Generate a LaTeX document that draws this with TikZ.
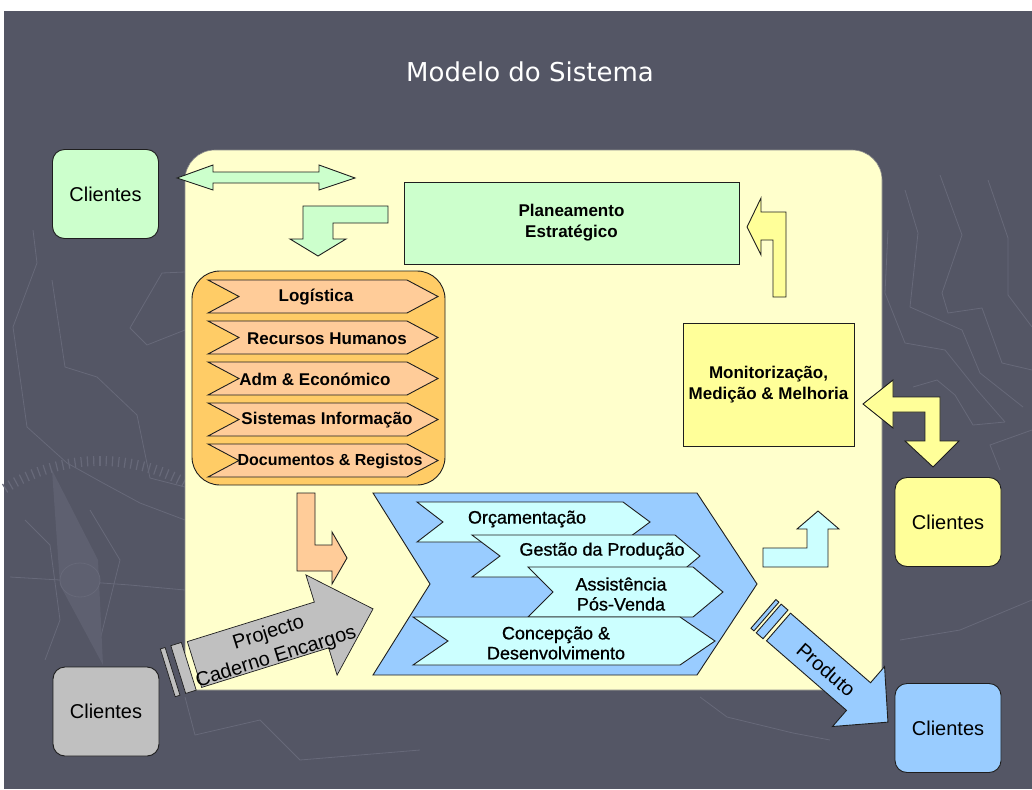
\documentclass[tikz,border=0pt]{standalone}
\usepackage{fontspec}
\setmainfont{Liberation Sans}
\newfontfamily\titlefont{DejaVu Sans}
\newfontfamily\semibold[FakeBold=0.8]{Liberation Sans}
\definecolor{bgdark}{RGB}{84,86,101}
\definecolor{bgline}{RGB}{103,105,121}
\definecolor{bgneedle}{RGB}{94,96,112}
\definecolor{cream}{RGB}{255,255,204}
\definecolor{cgreen}{RGB}{204,255,204}
\definecolor{corange}{RGB}{255,204,102}
\definecolor{cpeach}{RGB}{255,204,153}
\definecolor{cyell}{RGB}{255,255,153}
\definecolor{cblue}{RGB}{153,204,255}
\definecolor{ccyan}{RGB}{204,255,255}
\definecolor{cgray}{RGB}{192,192,192}
\definecolor{edgecol}{RGB}{30,30,30}
\newcommand\lblbold{\fontsize{17}{21}\selectfont\bfseries}
\newcommand\lblreg{\semibold\fontsize{18}{20}\selectfont}
\newcommand\lblbig{\fontsize{20}{25}\selectfont}
% #1 style, #2 left x, #3 tip x, #4 top y, #5 bottom y, #6 notch depth, #7 tip depth
\newcommand\chevshape[7]{%
  \draw[#1] (#2,#4) -- ({#3-#7},#4) -- (#3,{(#4+#5)/2}) -- ({#3-#7},#5)
    -- (#2,#5) -- ({#2+#6},{(#4+#5)/2}) -- cycle;}
\begin{document}
\begin{tikzpicture}[x=1pt,y=-1pt,
  shp/.style={draw=edgecol, line width=0.9pt, line join=miter},
  client/.style={shp, rounded corners=12pt, minimum width=106pt, minimum height=89pt,
    inner sep=0pt, font=\lblbig},
  bgl/.style={draw=bgline, line width=0.8pt},
  txt/.style={inner sep=0pt, align=center, text=black}]
\useasboundingbox (0,0) rectangle (1032,789);
\fill[white] (0,0) rectangle (1032,789);
\fill[bgdark] (4,11) rectangle (1032,789);

% faint background drawing (map and compass)
\draw[bgl] (905,190) -- (918,233) -- (910,307) -- (962,330) -- (980,373) -- (1023,407);
\draw[bgl] (940,175) -- (962,235) -- (942,293) -- (948,313) -- (982,308) -- (1002,363) -- (1032,370);
\draw[bgl] (988,180) -- (1008,238) -- (1008,295) -- (1032,327);
\draw[bgl] (888,230) -- (885,293) -- (905,343) -- (945,350) -- (977,390) -- (1005,422);
\draw[bgl] (913,387) -- (937,380) -- (955,395) -- (973,425) -- (1005,422);
\draw[bgl] (33,230) -- (37,263) -- (13,327) -- (27,427) -- (67,463) -- (103,483) -- (140,503) -- (185,520);
\draw[bgl] (52,280) -- (65,367) -- (97,377) -- (137,415) -- (150,478) -- (185,487);
\draw[bgl] (185,272) -- (162,273) -- (130,328) -- (147,345) -- (185,330);
\draw[bgl] (10,577) -- (60,580) -- (130,585) -- (185,590);
\draw[bgl] (25,520) -- (50,545) -- (60,620) -- (45,660);
\draw[bgl] (90,510) -- (120,560) -- (100,640);
\draw[bgl] (185,697) -- (195,735) -- (260,720) -- (300,760) -- (420,750);
\draw[bgl] (700,697) -- (727,717) -- (793,733) -- (830,740);
\draw[bgl] (900,640) -- (960,630) -- (1032,600);
\draw[bgl] (1032,430) -- (990,445) -- (1000,470);
\fill[bgneedle] (52,470) -- (98,560) -- (103,665) -- (60,585) -- cycle;
\draw[bgl, fill=bgneedle] (80,580) ellipse [x radius=20, y radius=17];
\begin{scope}[shift={(100,640)}]
  \foreach \a in {-122,-120,...,-58}{\draw[bgl, line width=1.2pt] (\a:174) -- (\a:184);}
\end{scope}

% title
\node[font=\titlefont\fontsize{26}{30}\selectfont, text=white, inner sep=0pt] (title) at (530,72) {Modelo do Sistema};

% main cream area
\draw[fill=cream, draw=black!45, line width=0.6pt] (185,690) -- (185,180)
  .. controls (185,163.4) and (198.4,150) .. (215,150) -- (852,150)
  .. controls (868.6,150) and (882,163.4) .. (882,180) -- (882,690) -- cycle;

% clients
\node[client, fill=cgreen] (c1) at (105.5,194) {Clientes};
\node[client, fill=cyell] (c2) at (948,522) {Clientes};
\node[client, fill=cblue] (c3) at (948,728) {Clientes};
\node[client, fill=cgray] (c4) at (106,711.5) {Clientes};

% double arrow clients <-> system
\draw[shp, fill=cgreen] (177,178) -- (213,165) -- (213,172) -- (319,172) -- (319,165) -- (355,178)
  -- (319,190) -- (319,183) -- (213,183) -- (213,190) -- cycle;

% planeamento
\node[shp, fill=cgreen, minimum width=335pt, minimum height=82pt, txt, font=\lblbold] (plan) at (571.5,223) {Planeamento\\Estratégico};

% green bent arrow down
\draw[shp, fill=cgreen] (388,206) -- (303,206) -- (303,239) -- (290,239) -- (318,256) -- (346,239)
  -- (333,239) -- (333,223) -- (388,223) -- cycle;

% yellow bent arrow up-left
\draw[shp, fill=cyell] (786,297) -- (786,212) -- (761,212) -- (761,198) -- (747,227) -- (761,255)
  -- (761,240) -- (773,240) -- (773,297) -- cycle;

% monitorizacao
\node[shp, fill=cyell, minimum width=171pt, minimum height=123pt, txt, font=\lblbold] (mon) at (768.5,384.5) {Monitorização,\\Medição \& Melhoria};

% yellow double bent arrow
\draw[shp, fill=cyell] (863,404) -- (893,380) -- (893,397) -- (940,397) -- (940,441) -- (959,441)
  -- (933,467) -- (905,441) -- (925,441) -- (925,412) -- (893,412) -- (893,428) -- cycle;

% support processes
\node[shp, fill=corange, rounded corners=28pt, minimum width=253pt, minimum height=214pt, inner sep=0pt] (sup) at (318.5,378) {};
\chevshape{shp, fill=cpeach}{208}{438}{280}{313}{31}{31}
\chevshape{shp, fill=cpeach}{208}{438}{321}{354}{31}{31}
\chevshape{shp, fill=cpeach}{208}{438}{362}{395}{31}{31}
\chevshape{shp, fill=cpeach}{208}{438}{403}{436}{31}{31}
\chevshape{shp, fill=cpeach}{208}{438}{444}{477}{31}{31}
\node[txt, font=\lblbold] (s1) at (316,297.5) {Logística};
\node[txt, font=\lblbold] (s2) at (327,338.5) {Recursos Humanos};
\node[txt, font=\lblbold] (s3) at (315,379.5) {Adm \& Económico};
\node[txt, font=\lblbold] (s4) at (327,420.5) {Sistemas Informação};
\node[txt, font=\fontsize{16}{20}\selectfont\bfseries] (s5) at (330,461.5) {Documentos \& Registos};

% orange bent arrow
\draw[shp, fill=cpeach] (297,493) -- (315,493) -- (315,545) -- (332,545) -- (332,532) -- (347,558)
  -- (332,584) -- (332,571) -- (297,571) -- cycle;

% main process chevron
\draw[shp, fill=cblue] (373,493) -- (697,493) -- (757,584) -- (697,675) -- (373,675) -- (430,584) -- cycle;
\chevshape{shp, fill=ccyan}{417}{650}{502}{542}{26}{27}
\chevshape{shp, fill=ccyan}{472}{700}{535}{577}{28}{25}
\chevshape{shp, fill=ccyan}{528}{723}{567}{617}{25}{30}
\chevshape{shp, fill=ccyan}{413}{715}{617}{665}{35}{35}
\node[txt, font=\lblreg] (p1) at (527,519) {Orçamentação};
\node[txt, font=\lblreg] (p2) at (602,551) {Gestão da Produção};
\node[txt, font=\lblreg] (p3) at (621,594) {Assistência\\Pós-Venda};
\node[txt, font=\lblreg] (p4) at (556,643) {Concepção \&\\Desenvolvimento};

% cyan bent arrow up
\draw[shp, fill=ccyan] (763,548) -- (807,548) -- (807,529) -- (797,529) -- (818,511) -- (839,529)
  -- (828,529) -- (828,567) -- (763,567) -- cycle;

% input arrow (grey)
\begin{scope}[shift={(194.5,664.5)}, rotate=17.3]
  \draw[shp, line width=0.7pt, fill=cgray] (0,-24) -- (133,-24) -- (133,-52.5) -- (187,0) -- (133,52.5) -- (133,24) -- (0,24) -- cycle;
  \draw[shp, line width=0.7pt, fill=cgray] (-17,-25) rectangle (-6,25);
  \draw[shp, line width=0.7pt, fill=cgray] (-28,-25) rectangle (-23,25);
  \node[txt, font=\lblbig, rotate=17.3] (inlbl) at (80,5) {Projecto\\Caderno Encargos};
\end{scope}

% output arrow (product)
\begin{scope}[shift={(778.5,627)}, rotate=-41]
  \draw[shp, fill=cblue] (0,-18.3) -- (106,-18.3) -- (106,-39.7) -- (145,0) -- (106,39.7) -- (106,18.3) -- (0,18.3) -- cycle;
  \draw[shp, fill=cblue] (-13,-19) rectangle (-4,19);
  \draw[shp, fill=cblue] (-20,-19) rectangle (-16,19);
  \node[txt, font=\lblbig, rotate=-41] (outlbl) at (64,1) {Produto};
\end{scope}
\end{tikzpicture}
\end{document}
